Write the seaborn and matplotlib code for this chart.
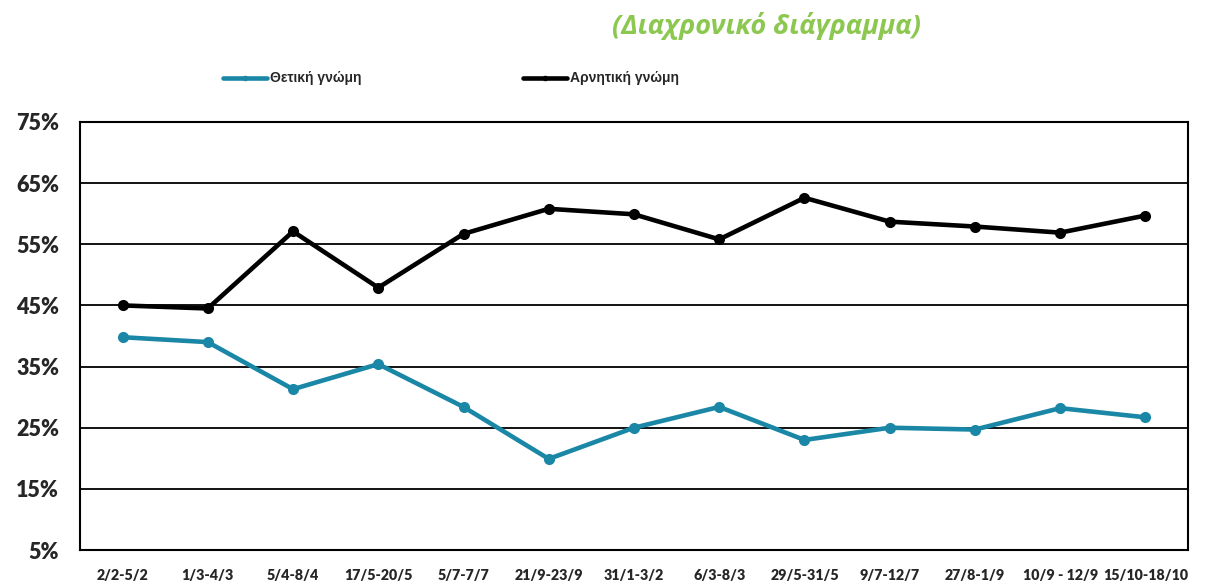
import numpy as np
import pandas as pd
import seaborn as sns
import matplotlib
matplotlib.use("Agg")
import matplotlib.pyplot as plt

# periods on the x axis
periods = ["2/2-5/2", "1/3-4/3", "5/4-8/4", "17/5-20/5", "5/7-7/7", "21/9-23/9",
           "31/1-3/2", "6/3-8/3", "29/5-31/5", "9/7-12/7", "27/8-1/9",
           "10/9 - 12/9", "15/10-18/10"]

# values (%)
thetiki = [39.8, 39.0, 31.3, 35.4, 28.4, 19.9, 25.0, 28.4, 23.0, 25.0, 24.7, 28.2, 26.7]
arnitiki = [45.0, 44.5, 57.1, 47.9, 56.7, 60.8, 59.9, 55.8, 62.6, 58.7, 57.9, 56.9, 59.7]

series_names = ["Θετική γνώμη", "Αρνητική γνώμη"]
colors = ["#1A87A6", "#000000"]

df = pd.DataFrame({
    "period": periods * 2,
    "value": thetiki + arnitiki,
    "series": [series_names[0]] * len(periods) + [series_names[1]] * len(periods),
})

sns.set_style("white")
plt.rcParams['font.family'] = ['Open Sans', 'DejaVu Sans']

fig = plt.figure(figsize=(12.15, 5.85), dpi=100)
ax = fig.add_axes([0.0658, 0.0598, 0.9120, 0.7317])

sns.lineplot(data=df, x="period", y="value", hue="series", palette=colors,
             hue_order=series_names, sort=False, marker="o", markersize=8,
             markeredgewidth=0, linewidth=3.3, ax=ax)

ax.set_xlim(-0.5, len(periods) - 0.5)
ax.set_ylim(5, 75)
ax.set_yticks(np.arange(5, 76, 10))
ax.set_yticklabels([f"{v}%" for v in range(5, 76, 10)], fontsize=15.5,
                   fontweight="heavy", family=['Lato', 'DejaVu Sans'])
ax.set_xticks(range(len(periods)))
ax.set_xticklabels(periods, fontsize=10.3, fontweight="heavy",
                   family=['Lato', 'DejaVu Sans'])
ax.tick_params(axis="x", length=0, pad=14)
ax.tick_params(axis="y", length=0, pad=15)
ax.set_xlabel("")
ax.set_ylabel("")

for y in range(15, 75, 10):
    ax.axhline(y, color="black", linewidth=1.3, zorder=0)
for s in ax.spines.values():
    s.set_visible(True)
    s.set_color("black")
    s.set_linewidth(1.5)

handles, labels = ax.get_legend_handles_labels()
for h in handles:
    h.set_markersize(4)
ax.legend(handles, labels, loc="center left", bbox_to_anchor=(0.173, 0.866),
          bbox_transform=fig.transFigure, ncol=2, frameon=False,
          handlelength=3.2, handletextpad=0.2, columnspacing=11.6,
          prop={"family": ["Liberation Sans", "DejaVu Sans"], "weight": "bold", "size": 10})

fig.text(0.631, 0.955, "(Διαχρονικό διάγραμμα)", ha="center", va="center",
         fontsize=19.5, fontweight="bold", fontstyle="italic", color="#8CC850")

fig.savefig("out.png", dpi=100)
